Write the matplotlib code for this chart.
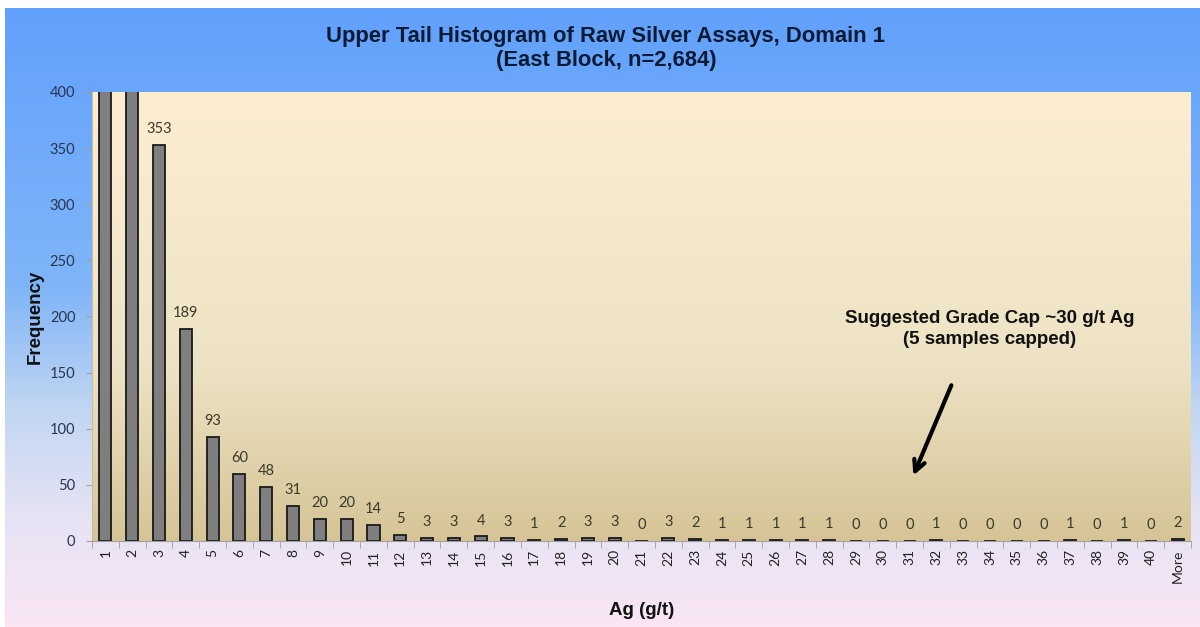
import numpy as np
import matplotlib.pyplot as plt
from matplotlib.colors import LinearSegmentedColormap

# bin labels and frequencies (first two bins run off the top of the chart)
bins = [str(i) for i in range(1, 41)] + ['More']
freq = [1050, 764, 353, 189, 93, 60, 48, 31, 20, 20, 14, 5, 3, 3, 4, 3, 1, 2, 3, 3,
        0, 3, 2, 1, 1, 1, 1, 1, 0, 0, 0, 1, 0, 0, 0, 0, 1, 0, 1, 0, 2]
y_max = 400
y_ticks = [0, 50, 100, 150, 200, 250, 300, 350, 400]

fig = plt.figure(figsize=(12, 6.27), dpi=100, facecolor='white')

# figure background: blue at top fading to lavender/pink at the bottom
bg = fig.add_axes([0.004, 0, 0.996, 0.987])
bg_cmap = LinearSegmentedColormap.from_list('bg', [
    (0.0, (0.98, 0.90, 0.96)),
    (0.18, (0.90, 0.89, 0.96)),
    (0.35, (0.76, 0.84, 0.95)),
    (0.55, (0.50, 0.71, 0.97)),
    (1.0, (0.38, 0.63, 0.99))])
bg.imshow(np.linspace(0, 1, 256).reshape(-1, 1), cmap=bg_cmap, aspect='auto',
          origin='lower', extent=[0, 1, 0, 1])
bg.set_axis_off()

ax = fig.add_axes([0.0767, 0.1372, 0.9158, 0.7161])
plot_cmap = LinearSegmentedColormap.from_list('plot', [
    (0.0, (0.84, 0.77, 0.59)),
    (0.4, (0.93, 0.89, 0.77)),
    (1.0, (0.99, 0.93, 0.82))])
ax.imshow(np.linspace(0, 1, 256).reshape(-1, 1), cmap=plot_cmap, aspect='auto',
          origin='lower', extent=[0, 1, 0, 1], transform=ax.transAxes, zorder=0)

x = np.arange(len(bins))
ax.bar(x, freq, width=0.45, color='#7f7f7f', edgecolor='#1a1a1a', linewidth=1.3, zorder=2)

for xi, v in zip(x, freq):
    if v <= y_max:
        ax.text(xi, v + 8, str(v), ha='center', va='bottom', fontsize=10.5,
                family='Lato', color='#3a3a2a', zorder=3)

ax.set_xlim(-0.5, len(bins) - 0.5)
ax.set_ylim(0, y_max)
ax.set_yticks(y_ticks)
ax.set_yticklabels([str(t) for t in y_ticks], fontsize=10.5, family='Lato', color='#2a3550')
ax.set_xticks(x)
ax.set_xticklabels(bins, rotation=90, fontsize=10, family='Lato', color='#222222')
ax.tick_params(axis='x', length=0, pad=6)
ax.set_xticks(np.arange(-0.5, len(bins)), minor=True)
ax.tick_params(axis='x', which='minor', length=5, color='#a0a0a0')
ax.tick_params(axis='y', length=4, color='#a0a0a0', pad=8)

for side in ['top', 'right']:
    ax.spines[side].set_visible(False)
ax.spines['left'].set_color('#c8bfa8')
ax.spines['bottom'].set_color('#a0a0a0')

ax.set_ylabel('Frequency', fontsize=13.5, fontweight='bold', family='Liberation Sans',
              color='#111111', labelpad=4)
ax.set_xlabel('Ag (g/t)', fontsize=13.5, fontweight='bold', family='Liberation Sans',
              color='#111111', labelpad=14)

fig.text(0.505, 0.941, 'Upper Tail Histogram of Raw Silver Assays, Domain 1',
         ha='center', va='center', fontsize=15.8, fontweight='bold',
         family='Liberation Sans', color='#0d1a33')
fig.text(0.505, 0.903, '(East Block, n=2,684)', ha='center', va='center', fontsize=15.8,
         fontweight='bold', family='Liberation Sans', color='#0d1a33')

ax.text(33.0, 189, 'Suggested Grade Cap ~30 g/t Ag\n(5 samples capped)', ha='center',
        va='center', fontsize=13.5, fontweight='bold', family='Liberation Sans',
        color='#111111', linespacing=1.3, zorder=4)
ax.annotate('', xy=(30.1, 56), xytext=(31.6, 141),
            arrowprops=dict(arrowstyle='->,head_length=0.8,head_width=0.4',
                            color='black', lw=3), zorder=4)

fig.savefig('out.png', dpi=100, facecolor=fig.get_facecolor())
